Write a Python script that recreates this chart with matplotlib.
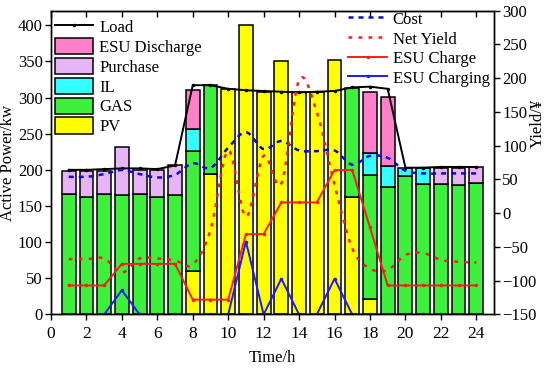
import numpy as np
import matplotlib
matplotlib.use("Agg")
import matplotlib.pyplot as plt
from matplotlib.path import Path
from matplotlib.patches import PathPatch
from matplotlib.lines import Line2D

plt.rcParams["font.family"] = ["Liberation Serif", "DejaVu Serif"]
plt.rcParams["font.size"] = 12

hours = np.arange(1, 25)

# stacked supply (kW), bottom to top
pv = [0, 0, 0, 0, 0, 0, 0, 60, 194, 312, 400, 308, 350, 308, 308, 352, 163, 21, 0, 0, 0, 0, 0, 0]
gas = [166, 163, 167, 165, 167, 162, 165, 166, 123, 0, 0, 0, 0, 0, 0, 0, 150, 172, 176, 191, 180, 181, 179, 182]
il = [0, 0, 0, 0, 0, 0, 0, 30, 0, 0, 0, 0, 0, 0, 0, 0, 0, 30, 29, 12, 22, 0, 0, 0]
purchase = [33, 36, 32, 66, 33, 38, 41, 0, 0, 0, 0, 0, 0, 0, 0, 0, 0, 0, 0, 0, 0, 22, 24, 22]
esu_dis = [0, 0, 0, 0, 0, 0, 0, 55, 0, 0, 0, 0, 0, 0, 0, 0, 0, 84, 96, 0, 0, 0, 0, 0]

load = [200, 200, 201, 202, 202, 201, 206, 317, 317, 312, 310, 309, 308, 307, 308, 309, 314, 315, 312, 203, 203, 204, 204, 204]

# yield side (right axis)
cost = [54, 54, 58, 64, 58, 53, 57, 74, 67, 97, 120, 95, 107, 93, 92, 93, 72, 85, 82, 63, 59, 59, 59, 59]
net_yield = [-68, -68, -67, -88, -67, -67, -70, -76, -25, 93, -5, 85, 44, 197, 150, 42, -52, -82, -84, -62, -59, -69, -72, -73]
esu_charge = [-107, -107, -107, -75, -75, -75, -75, -128, -128, -128, -31, -31, 16, 16, 16, 64, 64, -21, -107, -107, -107, -107, -107, -107]
esu_charging = [-150, -150, -150, -114, -150, -150, -150, -150, -150, -150, -42, -150, -97, -150, -150, -97, -150, -150, -150, -150, -150, -150, -150, -150]


def smooth_path(x, y):
    # Catmull-Rom curve through the points, as cubic Bezier segments
    x = np.asarray(x, float)
    y = np.asarray(y, float)
    px = np.concatenate([[x[0]], x, [x[-1]]])
    py = np.concatenate([[y[0]], y, [y[-1]]])
    verts = [(x[0], y[0])]
    codes = [Path.MOVETO]
    for i in range(1, len(px) - 2):
        c1 = (px[i] + (px[i + 1] - px[i - 1]) / 6, py[i] + (py[i + 1] - py[i - 1]) / 6)
        c2 = (px[i + 1] - (px[i + 2] - px[i]) / 6, py[i + 1] - (py[i + 2] - py[i]) / 6)
        verts += [c1, c2, (px[i + 1], py[i + 1])]
        codes += [Path.CURVE4] * 3
    return Path(verts, codes)


fig = plt.figure(figsize=(5.5, 3.68), dpi=100)
ax = fig.add_axes([0.0927, 0.1454, 0.8055, 0.8255])
ax2 = ax.twinx()

colors = {"PV": "#ffff00", "GAS": "#3cf03c", "IL": "#33ffff",
          "Purchase": "#e8b4f8", "ESU Discharge": "#ff80c8"}
layers = [("PV", pv), ("GAS", gas), ("IL", il), ("Purchase", purchase), ("ESU Discharge", esu_dis)]
bottom = np.zeros(24)
for name, vals in layers:
    vals = np.asarray(vals, float)
    mask = vals > 0
    ax.bar(hours[mask], vals[mask], bottom=bottom[mask], width=0.78,
           color=colors[name], edgecolor="black", linewidth=1.1, zorder=2)
    bottom += vals

ax.plot(hours, load, color="black", lw=1.4, marker=".", ms=3, zorder=4)

ax2.add_patch(PathPatch(smooth_path(hours, cost), fill=False, edgecolor="#0a0ad0",
                        lw=1.8, linestyle=(0, (2, 2))))
ax2.add_patch(PathPatch(smooth_path(hours, net_yield), fill=False, edgecolor="#ff1a1a",
                        lw=1.8, linestyle=(0, (1.5, 2.5))))
ax2.plot(hours, esu_charge, color="#ff1a1a", lw=1.4, marker=".", ms=3)
ax2.plot(hours, esu_charging, color="#1a1aff", lw=1.4, marker=".", ms=3)

ax.set_xlim(0, 25)
ax.set_ylim(0, 420)
ax2.set_ylim(-150, 300)
ax.set_xticks(np.arange(0, 25, 2))
ax.set_yticks(np.arange(0, 401, 50))
ax2.set_yticks(np.arange(-150, 301, 50))
ax.tick_params(axis="both", direction="out", length=4, width=1, pad=2, labelsize=12)
ax.tick_params(axis="x", pad=4, labelsize=12.5)
ax2.tick_params(axis="y", direction="out", length=4, width=1, pad=2, labelsize=12)
top = ax.secondary_xaxis("top")
top.set_xticks(np.arange(0, 25, 2))
top.tick_params(direction="in", length=4, width=1, labeltop=False)

ax.set_xlabel("Time/h", labelpad=6)
ax.set_ylabel("Active Power/kw", labelpad=1)
ax2.set_ylabel("Yield/¥")
ax2.yaxis.set_label_coords(1.08, 0.63)

for a in (ax, ax2):
    for s in a.spines.values():
        s.set_linewidth(1.0)

h1 = [Line2D([], [], color="black", lw=1.4, marker=".", ms=3)]
h1 += [plt.Rectangle((0, 0), 1, 1, facecolor=colors[n], edgecolor="black", lw=1.1)
       for n in ["ESU Discharge", "Purchase", "IL", "GAS", "PV"]]
ax.legend(h1, ["Load", "ESU Discharge", "Purchase", "IL", "GAS", "PV"],
          loc="upper left", bbox_to_anchor=(0, 0.99), frameon=False,
          borderaxespad=0, borderpad=0.25, handlelength=2.3, handleheight=1.15,
          labelspacing=0.12, handletextpad=0.35)

h2 = [Line2D([], [], color="#0a0ad0", lw=1.8, linestyle=(0, (2, 2))),
      Line2D([], [], color="#ff1a1a", lw=1.8, linestyle=(0, (1.5, 2.5))),
      Line2D([], [], color="#ff1a1a", lw=1.4, marker=".", ms=3),
      Line2D([], [], color="#1a1aff", lw=1.4, marker=".", ms=3)]
ax2.legend(h2, ["Cost", "Net Yield", "ESU Charge", "ESU Charging"],
           loc="upper left", bbox_to_anchor=(0.662, 1.017), frameon=False,
           borderaxespad=0, borderpad=0.25, handlelength=2.3, handleheight=1.15,
           labelspacing=0.12, handletextpad=0.35)

fig.savefig("out.png", dpi=100)
